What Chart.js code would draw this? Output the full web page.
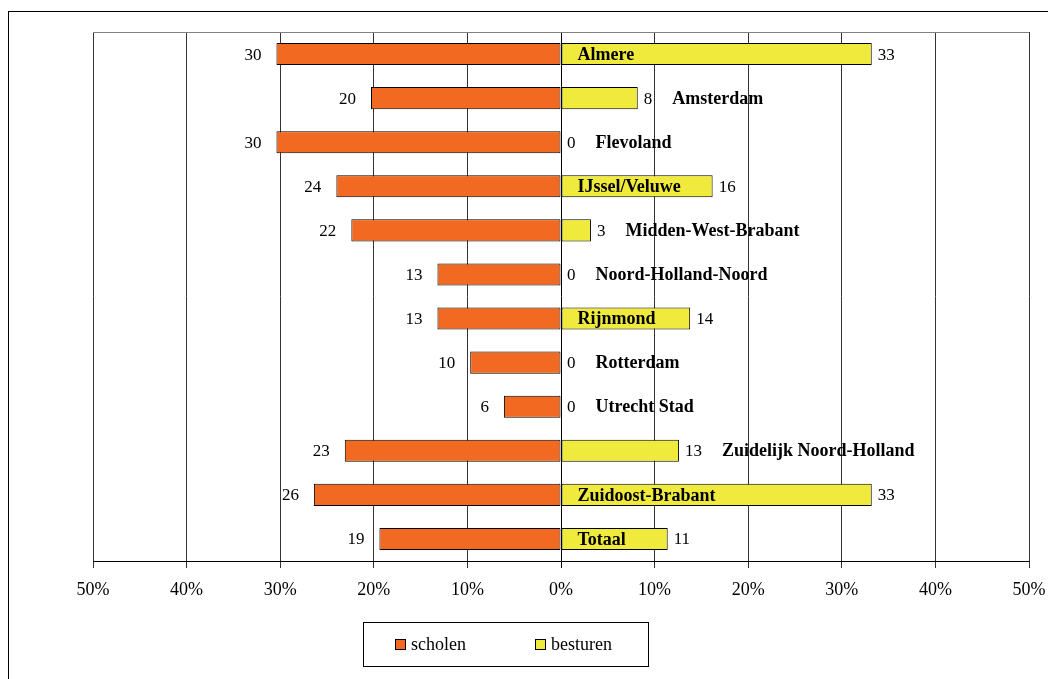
<!DOCTYPE html>
<html>
<head>
<meta charset="utf-8">
<script src="https://cdn.jsdelivr.net/npm/chart.js@4.4.0/dist/chart.umd.min.js"></script>
<style>
  body { margin: 0; background: #fff; overflow: hidden; }
  #frame { position: absolute; left: 8px; top: 11px; width: 1100px; height: 800px; border: 1px solid #000; }
  #wrap { position: absolute; left: 0; top: 0; width: 1048px; height: 679px; }
</style>
</head>
<body>
<div id="frame"></div>
<div id="wrap"><canvas id="chart"></canvas></div>
<script>
// categories and values (percentages)
const regios = ['Almere', 'Amsterdam', 'Flevoland', 'IJssel/Veluwe', 'Midden-West-Brabant',
  'Noord-Holland-Noord', 'Rijnmond', 'Rotterdam', 'Utrecht Stad', 'Zuidelijk Noord-Holland',
  'Zuidoost-Brabant', 'Totaal'];
const scholen = [30.4, 20.3, 30.4, 24.0, 22.4, 13.2, 13.2, 9.7, 6.1, 23.1, 26.4, 19.4];
const besturen = [33.2, 8.2, 0, 16.2, 3.2, 0, 13.8, 0, 0, 12.6, 33.2, 11.4];
const xTicks = [-50, -40, -30, -20, -10, 0, 10, 20, 30, 40, 50];

const ORANJE = '#F26A22';
const GEEL = '#F0EA3C';
const FONT = '"Liberation Serif", "Times New Roman", serif';

// draws value labels, region names and the legend box
const labelPlugin = {
  id: 'labels',
  afterDatasetsDraw(chart) {
    const ctx = chart.ctx;
    const m0 = chart.getDatasetMeta(0);
    const m1 = chart.getDatasetMeta(1);
    ctx.save();
    ctx.fillStyle = '#000';
    ctx.textBaseline = 'middle';
    regios.forEach((naam, i) => {
      const b0 = m0.data[i];
      const b1 = m1.data[i];
      // scholen value, left of the orange bar
      ctx.font = '17px ' + FONT;
      ctx.textAlign = 'right';
      ctx.fillText(String(Math.round(scholen[i])), b0.x - 15, b0.y + 1);
      // besturen value, right of the yellow bar
      const val = String(Math.round(besturen[i]));
      ctx.textAlign = 'left';
      ctx.fillText(val, b1.x + 6, b1.y + 1);
      const valW = ctx.measureText(val).width;
      // region name: inside the yellow bar if it fits
      ctx.font = 'bold 18px ' + FONT;
      const w = ctx.measureText(naam).width;
      const barW = b1.x - b1.base;
      if (barW >= w + 32) {
        ctx.fillText(naam, b1.base + 16, b1.y + 1);
      } else {
        ctx.fillText(naam, b1.x + 6 + valW + 20, b1.y + 1);
      }
    });
    ctx.restore();
  },
  afterDraw(chart) {
    const ctx = chart.ctx;
    const a = chart.chartArea;
    ctx.save();
    // top border of plot area
    ctx.strokeStyle = '#808080';
    ctx.lineWidth = 1;
    ctx.beginPath();
    ctx.moveTo(a.left, a.top + 0.5);
    ctx.lineTo(a.right, a.top + 0.5);
    ctx.stroke();
    // legend
    ctx.strokeStyle = '#000';
    ctx.strokeRect(363.5, 622.5, 285, 44);
    ctx.font = '18px ' + FONT;
    ctx.textBaseline = 'middle';
    ctx.textAlign = 'left';
    const items = [[395, 0], [535, 1]];
    items.forEach(([x, d]) => {
      const ds = chart.data.datasets[d];
      ctx.fillStyle = ds.backgroundColor;
      ctx.fillRect(x, 639, 11, 11);
      ctx.strokeRect(x + 0.5, 639.5, 10, 10);
      ctx.fillStyle = '#000';
      ctx.fillText(ds.label, x + 16, 645);
    });
    ctx.restore();
  }
};

new Chart(document.getElementById('chart'), {
  type: 'bar',
  data: {
    labels: regios,
    datasets: [
      {
        label: 'scholen',
        data: scholen.map(v => -v),
        backgroundColor: ORANJE,
        borderColor: '#000',
        borderWidth: 1,
        borderSkipped: false,
        grouped: false,
        barPercentage: 0.5,
        categoryPercentage: 1
      },
      {
        label: 'besturen',
        data: besturen,
        backgroundColor: GEEL,
        borderColor: '#000',
        borderWidth: (c) => (c.raw === 0 ? 0 : 1),
        borderSkipped: false,
        grouped: false,
        barPercentage: 0.5,
        categoryPercentage: 1
      }
    ]
  },
  options: {
    indexAxis: 'y',
    responsive: true,
    maintainAspectRatio: false,
    animation: false,
    layout: { padding: { left: 93, top: 32, right: 19, bottom: 0 } },
    plugins: {
      legend: { display: false },
      tooltip: { enabled: false }
    },
    scales: {
      x: {
        min: -50,
        max: 50,
        afterBuildTicks: (s) => { s.ticks = xTicks.map(v => ({ value: v })); },
        afterFit: (s) => { s.height = 118; s.paddingLeft = 0; s.paddingRight = 0; },
        grid: {
          color: (c) => (c.tick && c.tick.value === 0 ? '#000' : '#333'),
          tickLength: 7,
          drawOnChartArea: true
        },
        border: { color: '#000', width: 1 },
        ticks: {
          padding: 11,
          color: '#000',
          font: { family: FONT, size: 18 },
          maxRotation: 0,
          callback: (v) => Math.abs(v) + '%'
        }
      },
      y: {
        display: false,
        grid: { display: false }
      }
    }
  },
  plugins: [labelPlugin]
});
</script>
</body>
</html>
